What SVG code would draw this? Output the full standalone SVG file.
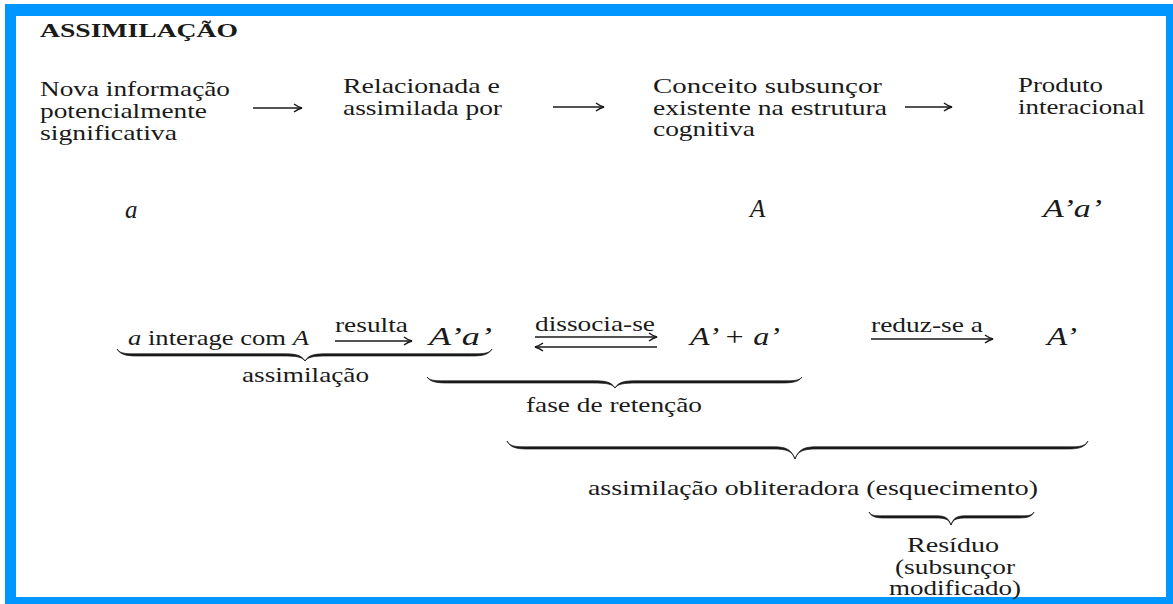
<svg xmlns="http://www.w3.org/2000/svg" width="1173" height="604" viewBox="0 0 1173 604">
<style>
text{font-family:"Liberation Serif","Times New Roman",serif;fill:#1a1a1a}
.t{font-size:22px}
.title{font-size:19px;font-weight:bold}
.it{font-style:italic}
.lbl{font-size:21px}
.var{font-size:25px;font-style:italic}
.br{fill:#1a1a1a;stroke:#1a1a1a;stroke-width:0.7;stroke-linejoin:round}
.ar{fill:none;stroke:#1a1a1a;stroke-width:1.6}
</style>
<defs>
<marker id="head" viewBox="0 0 10 10" refX="9" refY="5" markerWidth="10" markerHeight="10" markerUnits="userSpaceOnUse" orient="auto">
<path d="M1,1 Q5,4 9,5 Q5,6 1,9" fill="none" stroke="#1a1a1a" stroke-width="1.5"/>
</marker>
</defs>
<rect x="5" y="4" width="1168" height="600" fill="#0096FF"/>
<rect x="16" y="16" width="1150" height="581" fill="#ffffff"/>

<g id="title"><text class="title" x="40" y="37" textLength="198" lengthAdjust="spacingAndGlyphs">ASSIMILAÇÃO</text></g>

<g id="node-nova">
<text class="t" x="40" y="96" textLength="190" lengthAdjust="spacingAndGlyphs">Nova informação</text>
<text class="t" x="40" y="118" textLength="167" lengthAdjust="spacingAndGlyphs">potencialmente</text>
<text class="t" x="40" y="140" textLength="137" lengthAdjust="spacingAndGlyphs">significativa</text>
</g>
<g id="node-relacionada">
<text class="t" x="343" y="93" textLength="157" lengthAdjust="spacingAndGlyphs">Relacionada e</text>
<text class="t" x="343" y="115" textLength="159" lengthAdjust="spacingAndGlyphs">assimilada por</text>
</g>
<g id="node-conceito">
<text class="t" x="653" y="93" textLength="229" lengthAdjust="spacingAndGlyphs">Conceito subsunçor</text>
<text class="t" x="653" y="115" textLength="234" lengthAdjust="spacingAndGlyphs">existente na estrutura</text>
<text class="t" x="653" y="136" textLength="102" lengthAdjust="spacingAndGlyphs">cognitiva</text>
</g>
<g id="node-produto">
<text class="t" x="1018" y="92" textLength="85" lengthAdjust="spacingAndGlyphs">Produto</text>
<text class="t" x="1018" y="114" textLength="127" lengthAdjust="spacingAndGlyphs">interacional</text>
</g>

<g id="symbols">
<text class="var" x="125" y="218">a</text>
<text class="var" x="750" y="217">A</text>
<text class="var" x="1043" y="217" textLength="59" lengthAdjust="spacingAndGlyphs">A’a’</text>
</g>

<g id="row-process">
<text class="t" x="128" y="345" textLength="181" lengthAdjust="spacingAndGlyphs"><tspan class="it">a</tspan> interage com <tspan class="it">A</tspan></text>
<text class="lbl" x="335" y="332" textLength="73" lengthAdjust="spacingAndGlyphs">resulta</text>
<text class="var" x="429" y="345" font-size="26" textLength="63" lengthAdjust="spacingAndGlyphs">A’a’</text>
<text class="lbl" x="535" y="331" textLength="120" lengthAdjust="spacingAndGlyphs">dissocia-se</text>
<text class="var" x="690" y="345" font-size="26" textLength="90" lengthAdjust="spacingAndGlyphs">A’ + a’</text>
<text class="lbl" x="871" y="332" textLength="112" lengthAdjust="spacingAndGlyphs">reduz-se a</text>
<text class="var" x="1047" y="345" font-size="26" textLength="30" lengthAdjust="spacingAndGlyphs">A’</text>
</g>

<g id="labels">
<text class="t" x="242" y="382" textLength="127" lengthAdjust="spacingAndGlyphs">assimilação</text>
<text class="t" x="526" y="412" textLength="176" lengthAdjust="spacingAndGlyphs">fase de retenção</text>
<text class="t" x="588" y="495" textLength="450" lengthAdjust="spacingAndGlyphs">assimilação obliteradora (esquecimento)</text>
<text class="t" x="953" y="552" text-anchor="middle" textLength="92" lengthAdjust="spacingAndGlyphs">Resíduo</text>
<text class="t" x="955" y="574" text-anchor="middle" textLength="120" lengthAdjust="spacingAndGlyphs">(subsunçor</text>
<text class="t" x="955" y="595" text-anchor="middle" textLength="132" lengthAdjust="spacingAndGlyphs">modificado)</text>
</g>

<g id="connectors">
<line class="ar" x1="253" y1="108" x2="302" y2="108" marker-end="url(#head)"/>
<line class="ar" x1="553" y1="107" x2="604" y2="107" marker-end="url(#head)"/>
<line class="ar" x1="905" y1="107" x2="952" y2="107" marker-end="url(#head)"/>
<line class="ar" x1="335" y1="341" x2="412" y2="341" marker-end="url(#head)"/>
<line class="ar" x1="535" y1="337" x2="657" y2="337" marker-end="url(#head)"/>
<line class="ar" x1="657" y1="347" x2="535" y2="347" marker-end="url(#head)"/>
<line class="ar" x1="871" y1="339" x2="993" y2="339" marker-end="url(#head)"/>
<path class="br" d="M117,349 C121,356 129,356 142,356 L283,356 C297,356 302,357 305,361 C301,354.5 295,353.8 283,353.8 L142,353.8 C129,353.8 120,354.5 117,349 Z M492,349 C488,356 480,356 467,356 L327,356 C313,356 308,357 305,361 C309,354.5 315,353.8 327,353.8 L467,353.8 C480,353.8 489,354.5 492,349 Z"/>
<path class="br" d="M427,377 C431,383 439,383 452,383 L593,383 C607,383 612,384 615,388 C611,381.5 605,380.8 593,380.8 L452,380.8 C439,380.8 430,381.5 427,377 Z M802,377 C798,383 790,383 777,383 L637,383 C623,383 618,384 615,388 C619,381.5 625,380.8 637,380.8 L777,380.8 C790,380.8 799,381.5 802,377 Z"/>
<path class="br" d="M507,441 C511,449 519,449 532,449 L773,449 C787,449 792,451 795,459 C791,448.5 785,446.8 773,446.8 L532,446.8 C519,446.8 510,447.5 507,441 Z M1088,441 C1084,449 1076,449 1063,449 L817,449 C803,449 798,451 795,459 C799,448.5 805,446.8 817,446.8 L1063,446.8 C1076,446.8 1085,447.5 1088,441 Z"/>
<path class="br" d="M869,512 C872,518 878,518 888,518 L935,518 C945,518 949,519 951,525 C948,516.5 944,515.8 935,515.8 L888,515.8 C878,515.8 871,516.5 869,512 Z M1034,512 C1031,518 1025,518 1015,518 L967,518 C957,518 953,519 951,525 C954,516.5 958,515.8 967,515.8 L1015,515.8 C1025,515.8 1032,516.5 1034,512 Z"/>
</g>
</svg>
